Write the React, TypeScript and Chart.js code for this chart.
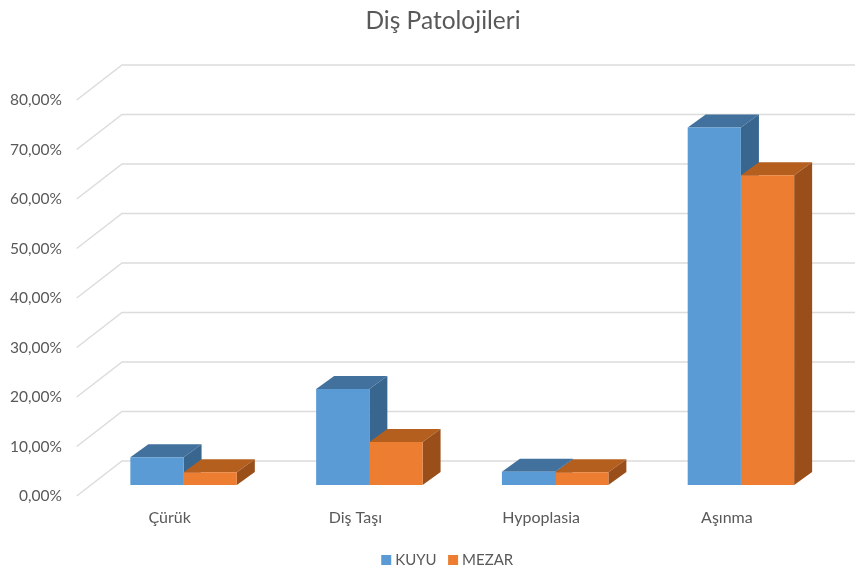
import React, { useEffect, useRef } from "react";
import { Chart, registerables } from "chart.js";

Chart.register(...registerables);

const titleText = "Diş Patolojileri";
const categories = ["Çürük", "Diş Taşı", "Hypoplasia", "Aşınma"];
const kuyu = [5.6, 19.4, 2.7, 72.2];
const mezar = [2.6, 8.7, 2.6, 62.6];

const W = 855;
const H = 572;
const TEXT = "#595959";
const FONT = "Lato";

const AREA_LEFT = 90.7;
const AREA_RIGHT = 833.8;
const AREA_TOP = 89;
const AREA_BOTTOM = 485;

const faces = [
  { top: "#41719C", side: "#38668F" },
  { top: "#B55F1F", side: "#9A4F1B" },
];

const depthPlugin = {
  id: "depth3d",
  afterLayout(chart: any) {
    if (chart.titleBlock) {
      chart.titleBlock.left = 31;
      chart.titleBlock.right = W;
    }
    if (chart.legend) {
      chart.legend.left = 43;
      chart.legend.right = W;
      chart.legend.top = 537.5;
      chart.legend.bottom = H;
    }
  },
  beforeDatasetsDraw(chart: any) {
    const { ctx } = chart;
    const y = chart.scales.y;
    ctx.save();
    ctx.strokeStyle = "#DCDCDC";
    ctx.lineWidth = 1.5;
    for (const t of y.ticks) {
      const p = y.getPixelForValue(t.value);
      ctx.beginPath();
      ctx.moveTo(76.7, p + 11);
      ctx.lineTo(122, p - 24);
      ctx.lineTo(W, p - 24);
      ctx.stroke();
    }
    const dx = 18;
    const dy = -13;
    chart.data.datasets.forEach((_: any, i: number) => {
      const meta = chart.getDatasetMeta(i);
      meta.data.forEach((bar: any) => {
        const props = bar.getProps(["x", "y", "base", "width"], true);
        const l = props.x - props.width / 2;
        const r = props.x + props.width / 2;
        ctx.fillStyle = faces[i].top;
        ctx.beginPath();
        ctx.moveTo(l, props.y);
        ctx.lineTo(l + dx, props.y + dy);
        ctx.lineTo(r + dx, props.y + dy);
        ctx.lineTo(r, props.y);
        ctx.closePath();
        ctx.fill();
        ctx.fillStyle = faces[i].side;
        ctx.beginPath();
        ctx.moveTo(r, props.y);
        ctx.lineTo(r + dx, props.y + dy);
        ctx.lineTo(r + dx, props.base + dy);
        ctx.lineTo(r, props.base);
        ctx.closePath();
        ctx.fill();
      });
    });
    ctx.restore();
  },
};

export default function App() {
  const ref = useRef<HTMLCanvasElement | null>(null);
  useEffect(() => {
    const chart = new Chart(ref.current as HTMLCanvasElement, {
      type: "bar",
      data: {
        labels: categories,
        datasets: [
          { label: "KUYU", data: kuyu, backgroundColor: "#5B9BD5" },
          { label: "MEZAR", data: mezar, backgroundColor: "#ED7D31" },
        ],
      },
      options: {
        responsive: false,
        animation: false,
        devicePixelRatio: 1,
        layout: { padding: { left: 0, right: W - AREA_RIGHT, top: 0, bottom: 0 } },
        datasets: { bar: { barPercentage: 1, categoryPercentage: 0.573 } },
        plugins: {
          tooltip: { enabled: false },
          title: {
            display: true,
            text: titleText,
            color: TEXT,
            font: { family: FONT, size: 24.5, weight: "normal" },
            padding: { top: 6, bottom: AREA_TOP - 6 - 24.5 * 1.2 },
          },
          legend: {
            position: "bottom",
            labels: {
              color: TEXT,
              font: { family: FONT, size: 15 },
              boxWidth: 3,
              boxHeight: 3,
              padding: 15,
              generateLabels: (c: any) =>
                Chart.defaults.plugins.legend.labels
                  .generateLabels(c)
                  .map((l: any) => ({ ...l, lineWidth: 7, strokeStyle: l.fillStyle })),
            },
          },
        },
        scales: {
          x: {
            grid: { display: false, drawTicks: false },
            border: { display: false },
            afterFit: (s: any) => {
              s.height = H - AREA_BOTTOM - 40;
            },
            ticks: {
              color: TEXT,
              font: { family: FONT, size: 16 },
              padding: 23.5,
              labelOffset: -14,
              maxRotation: 0,
              autoSkip: false,
            },
          },
          y: {
            min: 0,
            max: 80,
            grid: { display: false, drawTicks: false },
            border: { display: false },
            afterFit: (s: any) => {
              s.width = AREA_LEFT;
            },
            ticks: {
              stepSize: 10,
              color: TEXT,
              font: { family: FONT, size: 15.5 },
              padding: 28.7,
              labelOffset: 11,
              callback: (v: any) => Number(v).toFixed(2).replace(".", ",") + "%",
            },
          },
        },
      },
      plugins: [depthPlugin],
    } as any);
    return () => chart.destroy();
  }, []);
  return (
    <div style={{ position: "fixed", left: 0, top: 0, width: W, height: H, background: "#fff" }}>
      <canvas ref={ref} width={W} height={H} style={{ display: "block" }} />
    </div>
  );
}
